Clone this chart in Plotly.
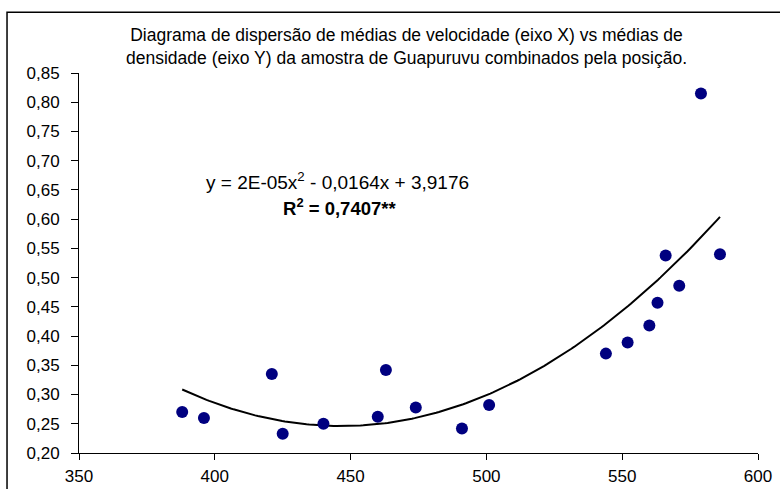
import numpy as np
import plotly.graph_objects as go

velocidade = [388, 396, 421, 425, 440, 460, 463, 474, 491, 501, 544, 552, 560, 563, 566, 571, 579, 586]
densidade = [0.270, 0.260, 0.335, 0.233, 0.250, 0.262, 0.342, 0.278, 0.242, 0.282,
             0.370, 0.389, 0.418, 0.457, 0.538, 0.486, 0.815, 0.540]
x_ticks = [350, 400, 450, 500, 550, 600]
y_ticks = [0.20, 0.25, 0.30, 0.35, 0.40, 0.45, 0.50, 0.55, 0.60, 0.65, 0.70, 0.75, 0.80, 0.85]

title_text = ("Diagrama de dispersão de médias de velocidade (eixo X) vs médias de<br>"
              "densidade (eixo Y) da amostra de Guapuruvu combinados pela posição.")
eq_text = "y = 2E-05x<sup>2</sup> - 0,0164x + 3,9176"
r2_text = "<b>R<sup>2</sup> = 0,7407**</b>"

coef = np.polyfit(velocidade, densidade, 2)
xf = np.linspace(min(velocidade), max(velocidade), 200)
yf = np.polyval(coef, xf)

fig = go.Figure()
fig.add_trace(go.Scatter(x=xf, y=yf, mode="lines",
                         line=dict(color="black", width=2), hoverinfo="skip"))
fig.add_trace(go.Scatter(x=velocidade, y=densidade, mode="markers",
                         marker=dict(color="#000080", size=12)))

FONT = "Liberation Sans, Arial, sans-serif"
fig.update_layout(
    width=780, height=489,
    margin=dict(l=79, r=22, t=73, b=36, autoexpand=False),
    paper_bgcolor="white", plot_bgcolor="white",
    showlegend=False,
    separators=",.",
    font=dict(family=FONT, color="black", size=17),
    xaxis=dict(range=[350, 600], tickvals=x_ticks, showgrid=False, zeroline=False,
               automargin=False,
               showline=True, linecolor="black", linewidth=1,
               ticks="outside", ticklen=6, tickcolor="black",
               ticklabelstandoff=2,
               tickfont=dict(size=17, family=FONT)),
    yaxis=dict(range=[0.20, 0.85], tickvals=y_ticks, tickformat=".2f",
               showgrid=False, zeroline=False, automargin=False,
               showline=True, linecolor="black", linewidth=1,
               ticks="outside", ticklen=7, tickcolor="black",
               ticklabelstandoff=8,
               tickfont=dict(size=17, family=FONT)),
    shapes=[dict(type="rect", xref="paper", yref="paper",
                 x0=-0.106, x1=1.2, y0=-0.3, y1=1.16,
                 line=dict(color="black", width=1.5), layer="below")],
    annotations=[
        dict(text=title_text, xref="paper", yref="paper", x=0.482, y=1.07,
             xanchor="center", yanchor="middle", showarrow=False,
             font=dict(size=17.5, family=FONT)),
        dict(text=eq_text, xref="x", yref="y", x=445, y=0.666,
             xanchor="center", yanchor="middle", showarrow=False,
             font=dict(size=19, family=FONT)),
        dict(text=r2_text, xref="x", yref="y", x=446, y=0.621,
             xanchor="center", yanchor="middle", showarrow=False,
             font=dict(size=18.5, family=FONT)),
    ],
)

fig.write_html("out.html")
